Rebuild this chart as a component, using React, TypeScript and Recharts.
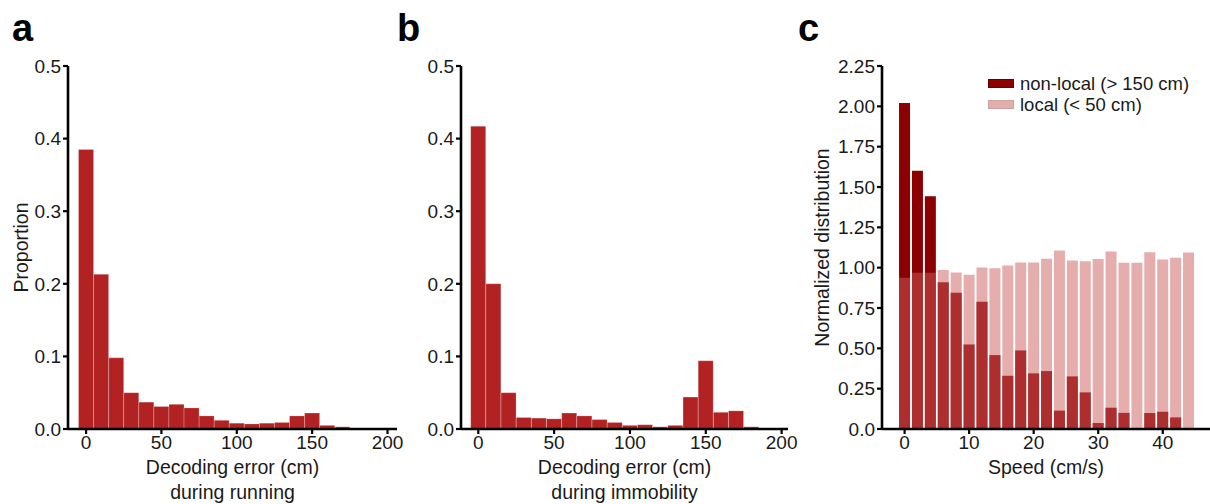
import { Bar, BarChart, Legend, XAxis, YAxis } from "recharts";

const font = '"Liberation Sans", Arial, Helvetica, sans-serif';

// decoding error histograms (bin centres in cm)
const errorBins = [0, 10, 20, 30, 40, 50, 60, 70, 80, 90, 100, 110, 120, 130, 140, 150, 160, 170, 180, 190];
const runningProportion = [
  0.385, 0.213, 0.098, 0.05, 0.037, 0.031, 0.034, 0.029, 0.018, 0.012,
  0.008, 0.007, 0.008, 0.009, 0.018, 0.022, 0.005, 0.003, 0.001, 0,
];
const immobilityProportion = [
  0.417, 0.2, 0.05, 0.016, 0.015, 0.014, 0.022, 0.018, 0.013, 0.009,
  0.005, 0.006, 0.003, 0.005, 0.044, 0.094, 0.023, 0.025, 0.003, 0,
];
const errorTicks = [0, 50, 100, 150, 200];
const proportionTicks = [0, 0.1, 0.2, 0.3, 0.4, 0.5];

// speed distributions
const speedBins = [0, 2, 4, 6, 8, 10, 12, 14, 16, 18, 20, 22, 24, 26, 28, 30, 32, 34, 36, 38, 40, 42, 44];
const nonLocal = [
  2.02, 1.6, 1.443, 0.91, 0.844, 0.524, 0.789, 0.458, 0.33, 0.487, 0.345, 0.359,
  0.114, 0.326, 0.227, 0.037, 0.132, 0.1, 0, 0.099, 0.107, 0.072, 0,
];
const local = [
  0.937, 0.968, 0.968, 0.985, 0.97, 0.956, 1.001, 0.997, 1.014, 1.032, 1.032, 1.055,
  1.107, 1.045, 1.04, 1.053, 1.1, 1.03, 1.03, 1.096, 1.051, 1.061, 1.094,
];
const speedTicks = [0, 10, 20, 30, 40];
const densityTicks = [0, 0.25, 0.5, 0.75, 1, 1.25, 1.5, 1.75, 2, 2.25];

const axisLine = { stroke: "#000", strokeWidth: 2.6 };
const tickLine = { stroke: "#000", strokeWidth: 2.2 };
const tickStyle = { fill: "#1a1a1a", fontSize: 19, fontFamily: font };

function XCaption({ viewBox, lines }: any) {
  const { x, y, width } = viewBox;
  return (
    <g>
      {lines.map((t: string, i: number) => (
        <text
          key={t}
          x={x + width / 2}
          y={y + 45 + i * 25}
          textAnchor="middle"
          fontSize={19.5}
          fontFamily={font}
          fill="#1a1a1a"
        >
          {t}
        </text>
      ))}
    </g>
  );
}

function YCaption({ viewBox, text, cx }: any) {
  const cy = viewBox.y + viewBox.height / 2;
  const x = viewBox.x + cx;
  return (
    <text
      x={x}
      y={cy}
      transform={`rotate(-90 ${x} ${cy})`}
      textAnchor="middle"
      dominantBaseline="central"
      fontSize={19.5}
      fontFamily={font}
      fill="#1a1a1a"
    >
      {text}
    </text>
  );
}

function ErrorHistogram({ left, width, yWidth, right, domain, values, caption, yLabel }: any) {
  const data = errorBins.map((bin, i) => ({ bin, value: values[i] }));
  return (
    <div style={{ position: "absolute", left, top: 0 }}>
      <BarChart
        width={width}
        height={504}
        data={data}
        margin={{ top: 66, right, bottom: 0, left: 0 }}
        barCategoryGap={0}
      >
        <XAxis
          type="number"
          dataKey="bin"
          domain={domain}
          allowDataOverflow
          ticks={errorTicks}
          interval={0}
          height={75}
          axisLine={axisLine}
          tickLine={tickLine}
          tickSize={5}
          tick={tickStyle}
          label={<XCaption lines={caption} />}
        />
        <YAxis
          type="number"
          domain={[0, 0.5]}
          ticks={proportionTicks}
          interval={0}
          tickFormatter={(v: number) => v.toFixed(1)}
          width={yWidth}
          axisLine={axisLine}
          tickLine={tickLine}
          tickSize={5}
          tick={tickStyle}
          label={yLabel ? <YCaption text={yLabel} cx={21} /> : undefined}
        />
        <Bar
          dataKey="value"
          fill="#B22222"
          stroke="#fff"
          strokeOpacity={0.35}
          strokeWidth={0.6}
          isAnimationActive={false}
        />
      </BarChart>
    </div>
  );
}

function SpeedLegend() {
  const rows = [
    { label: "non-local (> 150 cm)", fill: "#8B0000", border: "#6a0000" },
    { label: "local (< 50 cm)", fill: "#E6ADAD", border: "#c9a3a3" },
  ];
  return (
    <div style={{ fontFamily: font, fontSize: 18.5, lineHeight: "21px", color: "#1a1a1a" }}>
      {rows.map((r) => (
        <div key={r.label} style={{ display: "flex", alignItems: "center", height: 21 }}>
          <span
            style={{
              display: "inline-block",
              width: 24,
              height: 7,
              background: r.fill,
              border: `1px solid ${r.border}`,
              marginRight: 6,
            }}
          />
          <span style={{ whiteSpace: "nowrap" }}>{r.label}</span>
        </div>
      ))}
    </div>
  );
}

function SpeedChart() {
  const data = speedBins.map((speed, i) => ({ speed, nonLocal: nonLocal[i], local: local[i] }));
  const domain = [-3.5, 47.32];
  return (
    <div style={{ position: "absolute", left: 800, top: 0 }}>
      <BarChart
        width={410}
        height={504}
        data={data}
        margin={{ top: 66, right: 0, bottom: 0, left: 0 }}
        barCategoryGap="7%"
      >
        <XAxis
          xAxisId="nonlocal"
          type="number"
          dataKey="speed"
          domain={domain}
          allowDataOverflow
          ticks={speedTicks}
          interval={0}
          height={75}
          axisLine={axisLine}
          tickLine={tickLine}
          tickSize={5}
          tick={tickStyle}
          label={<XCaption lines={["Speed (cm/s)"]} />}
        />
        <XAxis
          xAxisId="local"
          type="number"
          dataKey="speed"
          domain={domain}
          allowDataOverflow
          height={0}
          hide
        />
        <YAxis
          type="number"
          domain={[0, 2.25]}
          ticks={densityTicks}
          interval={0}
          tickFormatter={(v: number) => (v === 0 ? "0.0" : v.toFixed(2))}
          width={82}
          axisLine={axisLine}
          tickLine={tickLine}
          tickSize={5}
          tick={tickStyle}
          label={<YCaption text="Normalized distribution" cx={22} />}
        />
        <Legend
          layout="vertical"
          align="center"
          verticalAlign="middle"
          content={<SpeedLegend />}
          wrapperStyle={{ position: "absolute", left: 188, top: 72.5, width: "auto" }}
        />
        <Bar xAxisId="nonlocal" dataKey="nonLocal" fill="#8B0000" isAnimationActive={false} />
        <Bar xAxisId="local" dataKey="local" fill="#CD5C5C" fillOpacity={0.5} isAnimationActive={false} />
      </BarChart>
    </div>
  );
}

export default function App() {
  return (
    <div style={{ position: "absolute", left: 0, top: 0, width: 1210, height: 504, background: "#fff" }}>
      <ErrorHistogram
        left={0}
        width={410}
        yWidth={68}
        right={13}
        domain={[-12, 206.3]}
        values={runningProportion}
        caption={["Decoding error (cm)", "during running"]}
        yLabel="Proportion"
      />
      <ErrorHistogram
        left={390}
        width={410}
        yWidth={71}
        right={12}
        domain={[-11.4, 204.2]}
        values={immobilityProportion}
        caption={["Decoding error (cm)", "during immobility"]}
      />
      <SpeedChart />
      <svg
        width={1210}
        height={504}
        style={{ position: "absolute", left: 0, top: 0, pointerEvents: "none" }}
      >
        <text x={12} y={41} fontSize={38} fontWeight="bold" fontFamily={font}>a</text>
        <text x={397} y={41} fontSize={38} fontWeight="bold" fontFamily={font}>b</text>
        <text x={798} y={41} fontSize={38} fontWeight="bold" fontFamily={font}>c</text>
      </svg>
    </div>
  );
}
